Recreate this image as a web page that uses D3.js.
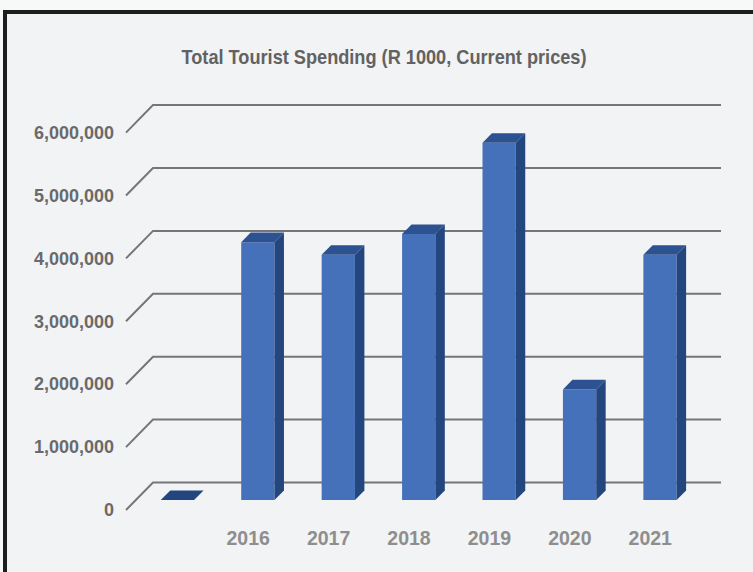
<!DOCTYPE html>
<html>
<head>
<meta charset="utf-8">
<script src="https://cdn.jsdelivr.net/npm/d3@7/dist/d3.min.js"></script>
<style>
  html, body { margin: 0; padding: 0; background: #f7f8f8; overflow: hidden; }
  svg { display: block; }
</style>
</head>
<body>
<svg id="chart" width="753" height="572"></svg>
<script>
// Total Tourist Spending — 3D column chart redrawn with D3

// ── Data ──────────────────────────────────────────────────────────────────────
const categories = ['', '2016', '2017', '2018', '2019', '2020', '2021'];
const spending   = [0, 4100000, 3900000, 4230000, 5680000, 1760000, 3900000];
const yTicks     = [0, 1000000, 2000000, 3000000, 4000000, 5000000, 6000000];
const TITLE      = 'Total Tourist Spending (R 1000, Current prices)';

// ── Layout ────────────────────────────────────────────────────────────────────
const W = 753, H = 572;
const DEPTH_X = 27, DEPTH_Y = 27.5;     // front→back offset of the floor
const BAR_Z0 = 0.36, BAR_Z1 = 0.71;     // bar depth within the floor (0=front, 1=back)
const FLOOR_X0 = 126, FLOOR_X1 = 694;   // front edge of floor / walls

const COLORS = {
  front: '#4571ba',
  side:  '#24467f',
  top:   '#2d5292',
  grid:  '#767676',
  yText: '#6a6a6a',
  xText: '#8e8e8e',
  title: '#626262',
};

const svg = d3.select('#chart');

// panel with heavy frame (right and bottom run off the picture)
svg.append('rect')
  .attr('x', 5).attr('y', 12)
  .attr('width', W + 20).attr('height', H + 20)
  .attr('fill', '#f2f3f5')
  .attr('stroke', '#1d1d1d')
  .attr('stroke-width', 4);

svg.append('text')
  .attr('x', 384).attr('y', 64)
  .attr('text-anchor', 'middle')
  .attr('font-family', '"Liberation Sans Narrow", "Arial Narrow", "Liberation Sans", Arial, sans-serif')
  .attr('font-weight', 'bold')
  .attr('font-size', 21)
  .attr('fill', COLORS.title)
  .attr('textLength', 405)
  .attr('lengthAdjust', 'spacingAndGlyphs')
  .text(TITLE);

// ── Scales ────────────────────────────────────────────────────────────────────
// y scale is for the front plane (z = 0); deeper points shift up/right
const y = d3.scaleLinear().domain([0, 6000000]).range([510, 132.6]);
const x = d3.scaleBand().domain(categories).range([127.5, 690.5])
  .paddingInner(0.586).paddingOuter(0.293);

const px = (sx, z) => sx + z * DEPTH_X;
const py = (v, z)  => y(v) - z * DEPTH_Y;

// ── Gridlines: back wall + side wall diagonals ───────────────────────────────
const grid = svg.append('g')
  .attr('stroke', COLORS.grid)
  .attr('stroke-width', 2)
  .attr('fill', 'none');

yTicks.forEach(t => {
  grid.append('path')
    .attr('d', `M${FLOOR_X0},${py(t, 0)}L${px(FLOOR_X0, 1)},${py(t, 1)}L${px(FLOOR_X1, 1)},${py(t, 1)}`);
});

// y axis labels
svg.append('g')
  .attr('font-family', '"Liberation Sans", Arial, sans-serif')
  .attr('font-weight', 'bold')
  .attr('font-size', 18)
  .attr('fill', COLORS.yText)
  .attr('text-anchor', 'end')
  .selectAll('text')
  .data(yTicks)
  .enter().append('text')
  .attr('x', 114)
  .attr('y', d => y(d) + 1.5)
  .attr('dominant-baseline', 'middle')
  .text(d => d3.format(',')(d));

// ── Bars ──────────────────────────────────────────────────────────────────────
const bars = svg.append('g');
categories.forEach((c, i) => {
  const v  = spending[i];
  const l  = x(c), r = x(c) + x.bandwidth();
  const g  = bars.append('g');
  const pts = arr => arr.map(p => p.join(',')).join(' ');

  // front face
  if (v > 0) {
    g.append('polygon')
      .attr('points', pts([
        [px(l, BAR_Z0), py(0, BAR_Z0)], [px(r, BAR_Z0), py(0, BAR_Z0)],
        [px(r, BAR_Z0), py(v, BAR_Z0)], [px(l, BAR_Z0), py(v, BAR_Z0)],
      ]))
      .attr('fill', COLORS.front);
    // right side face
    g.append('polygon')
      .attr('points', pts([
        [px(r, BAR_Z0), py(0, BAR_Z0)], [px(r, BAR_Z1), py(0, BAR_Z1)],
        [px(r, BAR_Z1), py(v, BAR_Z1)], [px(r, BAR_Z0), py(v, BAR_Z0)],
      ]))
      .attr('fill', COLORS.side);
  }
  // top face
  g.append('polygon')
    .attr('points', pts([
      [px(l, BAR_Z0), py(v, BAR_Z0)], [px(r, BAR_Z0), py(v, BAR_Z0)],
      [px(r, BAR_Z1), py(v, BAR_Z1)], [px(l, BAR_Z1), py(v, BAR_Z1)],
    ]))
    .attr('fill', v > 0 ? COLORS.top : COLORS.side);
});

// x axis labels (front plane)
svg.append('g')
  .attr('font-family', '"Liberation Sans", Arial, sans-serif')
  .attr('font-weight', 'bold')
  .attr('font-size', 19.5)
  .attr('fill', COLORS.xText)
  .attr('text-anchor', 'middle')
  .selectAll('text')
  .data(categories)
  .enter().append('text')
  .attr('x', d => x(d) + x.bandwidth() / 2)
  .attr('y', 545)
  .text(d => d);
</script>
</body>
</html>
